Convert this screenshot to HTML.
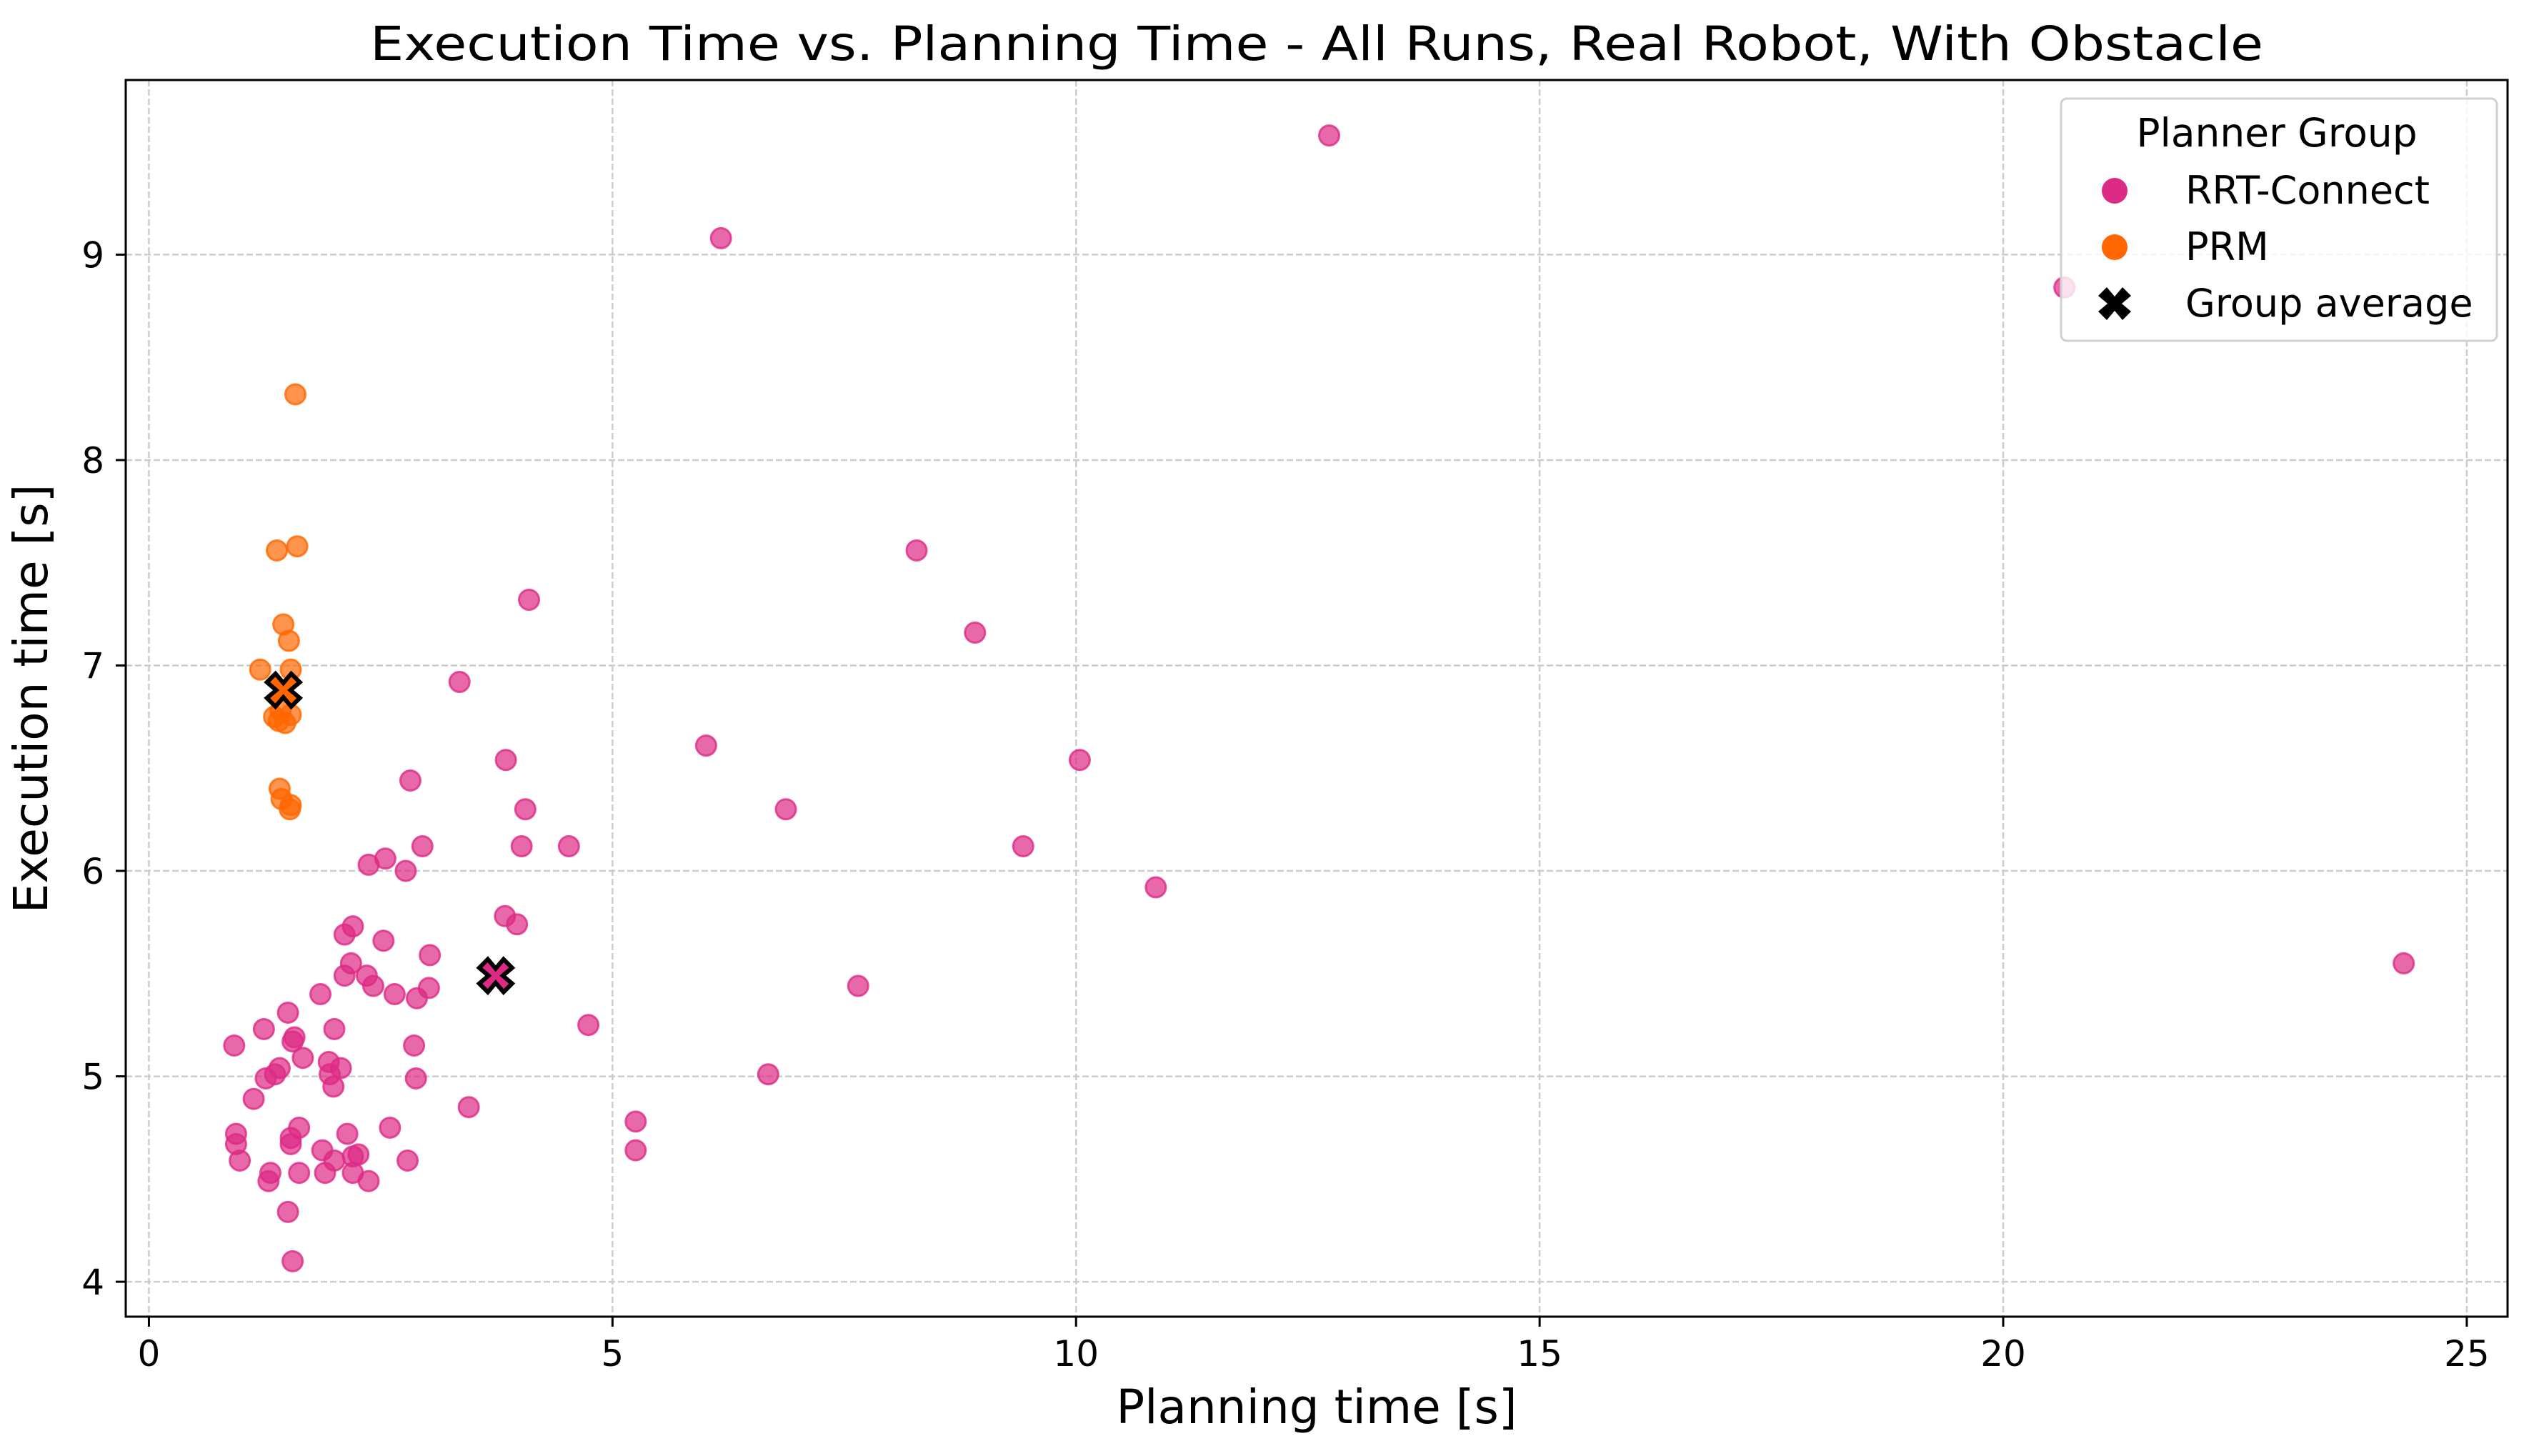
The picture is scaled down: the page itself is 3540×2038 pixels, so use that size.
<!DOCTYPE html>
<html><head><meta charset="utf-8"><style>
html,body{margin:0;padding:0;background:#fff;}
svg{display:block;font-family:"DejaVu Sans","Liberation Sans",sans-serif;}
</style></head><body>
<svg id="chart" width="3540" height="2038" viewBox="0 0 3540 2038" xmlns="http://www.w3.org/2000/svg">
<rect width="3540" height="2038" fill="#fff"/>
<text x="1843" y="84" font-size="66" text-anchor="middle" textLength="2650" lengthAdjust="spacingAndGlyphs">Execution Time vs. Planning Time - All Runs, Real Robot, With Obstacle</text>
<g id="grid"></g>
<g id="pts"></g>
<g id="avg"></g>
<rect x="176" y="112" width="3334" height="1731" fill="none" stroke="#000" stroke-width="3"/>
<g id="ticks"></g>
<text x="1843" y="1992" font-size="66" text-anchor="middle">Planning time [s]</text>
<text transform="translate(66,978) rotate(-90)" font-size="66" text-anchor="middle">Execution time [s]</text>
<g>
<rect x="2885" y="138" width="610" height="339" rx="8" fill="#fff" fill-opacity="0.8" stroke="#d0d0d0" stroke-width="3"/>
<text x="3187" y="205" font-size="55" text-anchor="middle">Planner Group</text>
<circle cx="2960" cy="267" r="18" fill="#dd2a84"/>
<text x="3059" y="285" font-size="54">RRT-Connect</text>
<circle cx="2960" cy="346" r="18" fill="#ff6600"/>
<text x="3059" y="364" font-size="54">PRM</text>
<path d="M-11,-23 L0,-10 L11,-23 L23,-11 L10,0 L23,11 L11,23 L0,10 L-11,23 L-23,11 L-10,0 L-23,-11 Z" transform="translate(2960,425)" fill="#000"/>
<text x="3059" y="443" font-size="54">Group average</text>
</g>
</svg>
<script>
const xTicks = [0, 5, 10, 15, 20, 25];
const yTicks = [4, 5, 6, 7, 8, 9];
const rrtX = [12.73,6.17,20.66,8.28,8.91,4.10,3.35,6.01,10.04,3.85,2.82,6.87,4.06,9.43,4.02,4.53,2.95,2.55,2.37,2.77,10.86,3.84,3.97,2.20,2.11,2.53,3.03,2.18,24.32,2.11,2.35,2.42,7.65,3.02,1.85,2.65,2.89,1.50,1.24,2.00,4.74,1.57,1.55,0.92,2.86,1.66,1.94,1.41,2.07,1.36,1.95,6.68,1.26,2.88,1.99,1.13,3.45,5.25,2.60,1.62,2.14,0.94,1.53,1.53,0.94,1.87,5.25,2.26,2.20,2.00,2.79,0.98,1.90,1.62,2.20,1.31,1.29,2.37,1.50,1.55];
const rrtY = [9.58,9.08,8.84,7.56,7.16,7.32,6.92,6.61,6.54,6.54,6.44,6.30,6.30,6.12,6.12,6.12,6.12,6.06,6.03,6.00,5.92,5.78,5.74,5.73,5.69,5.66,5.59,5.55,5.55,5.49,5.49,5.44,5.44,5.43,5.40,5.40,5.38,5.31,5.23,5.23,5.25,5.19,5.17,5.15,5.15,5.09,5.07,5.04,5.04,5.01,5.01,5.01,4.99,4.99,4.95,4.89,4.85,4.78,4.75,4.75,4.72,4.72,4.70,4.67,4.67,4.64,4.64,4.62,4.61,4.59,4.59,4.59,4.53,4.53,4.53,4.53,4.49,4.49,4.34,4.10];
const prmX = [1.58,1.38,1.60,1.45,1.51,1.20,1.53,1.40,1.53,1.35,1.42,1.47,1.41,1.43,1.53,1.52];
const prmY = [8.32,7.56,7.58,7.20,7.12,6.98,6.98,6.73,6.76,6.75,6.78,6.72,6.40,6.35,6.32,6.30];
const avgX = [3.74, 1.45];
const avgY = [5.49, 6.88];
const avgNames = ['rrt-connect', 'prm'];
const avgColors = ['#dd2a84', '#ff6600'];

const NS = 'http://www.w3.org/2000/svg';
const X0 = 176, X1 = 3510, Y0 = 112, Y1 = 1843;
const xmin = -0.25, xmax = 25.44, ymin = 3.83, ymax = 9.85;
function sx(v){ return X0 + (v - xmin) / (xmax - xmin) * (X1 - X0); }
function sy(v){ return Y1 - (v - ymin) / (ymax - ymin) * (Y1 - Y0); }
function mk(tag, attrs, parent){ const e = document.createElementNS(NS, tag); for (const k in attrs) e.setAttribute(k, attrs[k]); parent.appendChild(e); return e; }

const grid = document.getElementById('grid');
const ticks = document.getElementById('ticks');
xTicks.forEach(t => {
  const g = mk('line', {x1: sx(t), x2: sx(t), y1: Y0, y2: Y1, stroke: '#cccccc', 'stroke-width': 2.5, 'stroke-dasharray': '9,4'}, grid);
  
  
  const tk = mk('line', {x1: sx(t), x2: sx(t), y1: Y1, y2: Y1 + 14, stroke: '#000', 'stroke-width': 3}, ticks);
  
  
  const tl = mk('text', {x: sx(t), y: 1912, 'font-size': 50, 'text-anchor': 'middle'}, ticks);
  tl.textContent = t;
  
  
});
yTicks.forEach(t => {
  const g = mk('line', {x1: X0, x2: X1, y1: sy(t), y2: sy(t), stroke: '#cccccc', 'stroke-width': 2.5, 'stroke-dasharray': '9,4'}, grid);
  
  
  const tk = mk('line', {x1: X0 - 14, x2: X0, y1: sy(t), y2: sy(t), stroke: '#000', 'stroke-width': 3}, ticks);
  
  
  const tl = mk('text', {x: 146, y: sy(t) + 18, 'font-size': 50, 'text-anchor': 'end'}, ticks);
  tl.textContent = t;
  
  
});

const pts = document.getElementById('pts');
rrtX.forEach((v, i) => {
  const c = mk('circle', {cx: sx(v), cy: sy(rrtY[i]), r: 14, fill: '#dd2a84', 'fill-opacity': 0.7, stroke: '#dd2a84', 'stroke-opacity': 0.8, 'stroke-width': 3}, pts);
  
  
});
prmX.forEach((v, i) => {
  const c = mk('circle', {cx: sx(v), cy: sy(prmY[i]), r: 14, fill: '#ff6600', 'fill-opacity': 0.7, stroke: '#ff6600', 'stroke-opacity': 0.8, 'stroke-width': 3}, pts);
  
  
});
const avg = document.getElementById('avg');
avgX.forEach((v, i) => {
  const p = mk('path', {d: 'M-11,-23 L0,-10 L11,-23 L23,-11 L10,0 L23,11 L11,23 L0,10 L-11,23 L-23,11 L-10,0 L-23,-11 Z', transform: 'translate(' + sx(v) + ',' + sy(avgY[i]) + ')', fill: avgColors[i], stroke: '#000', 'stroke-width': 6, 'stroke-linejoin': 'miter'}, avg);
  
  
});
</script>
</body></html>
